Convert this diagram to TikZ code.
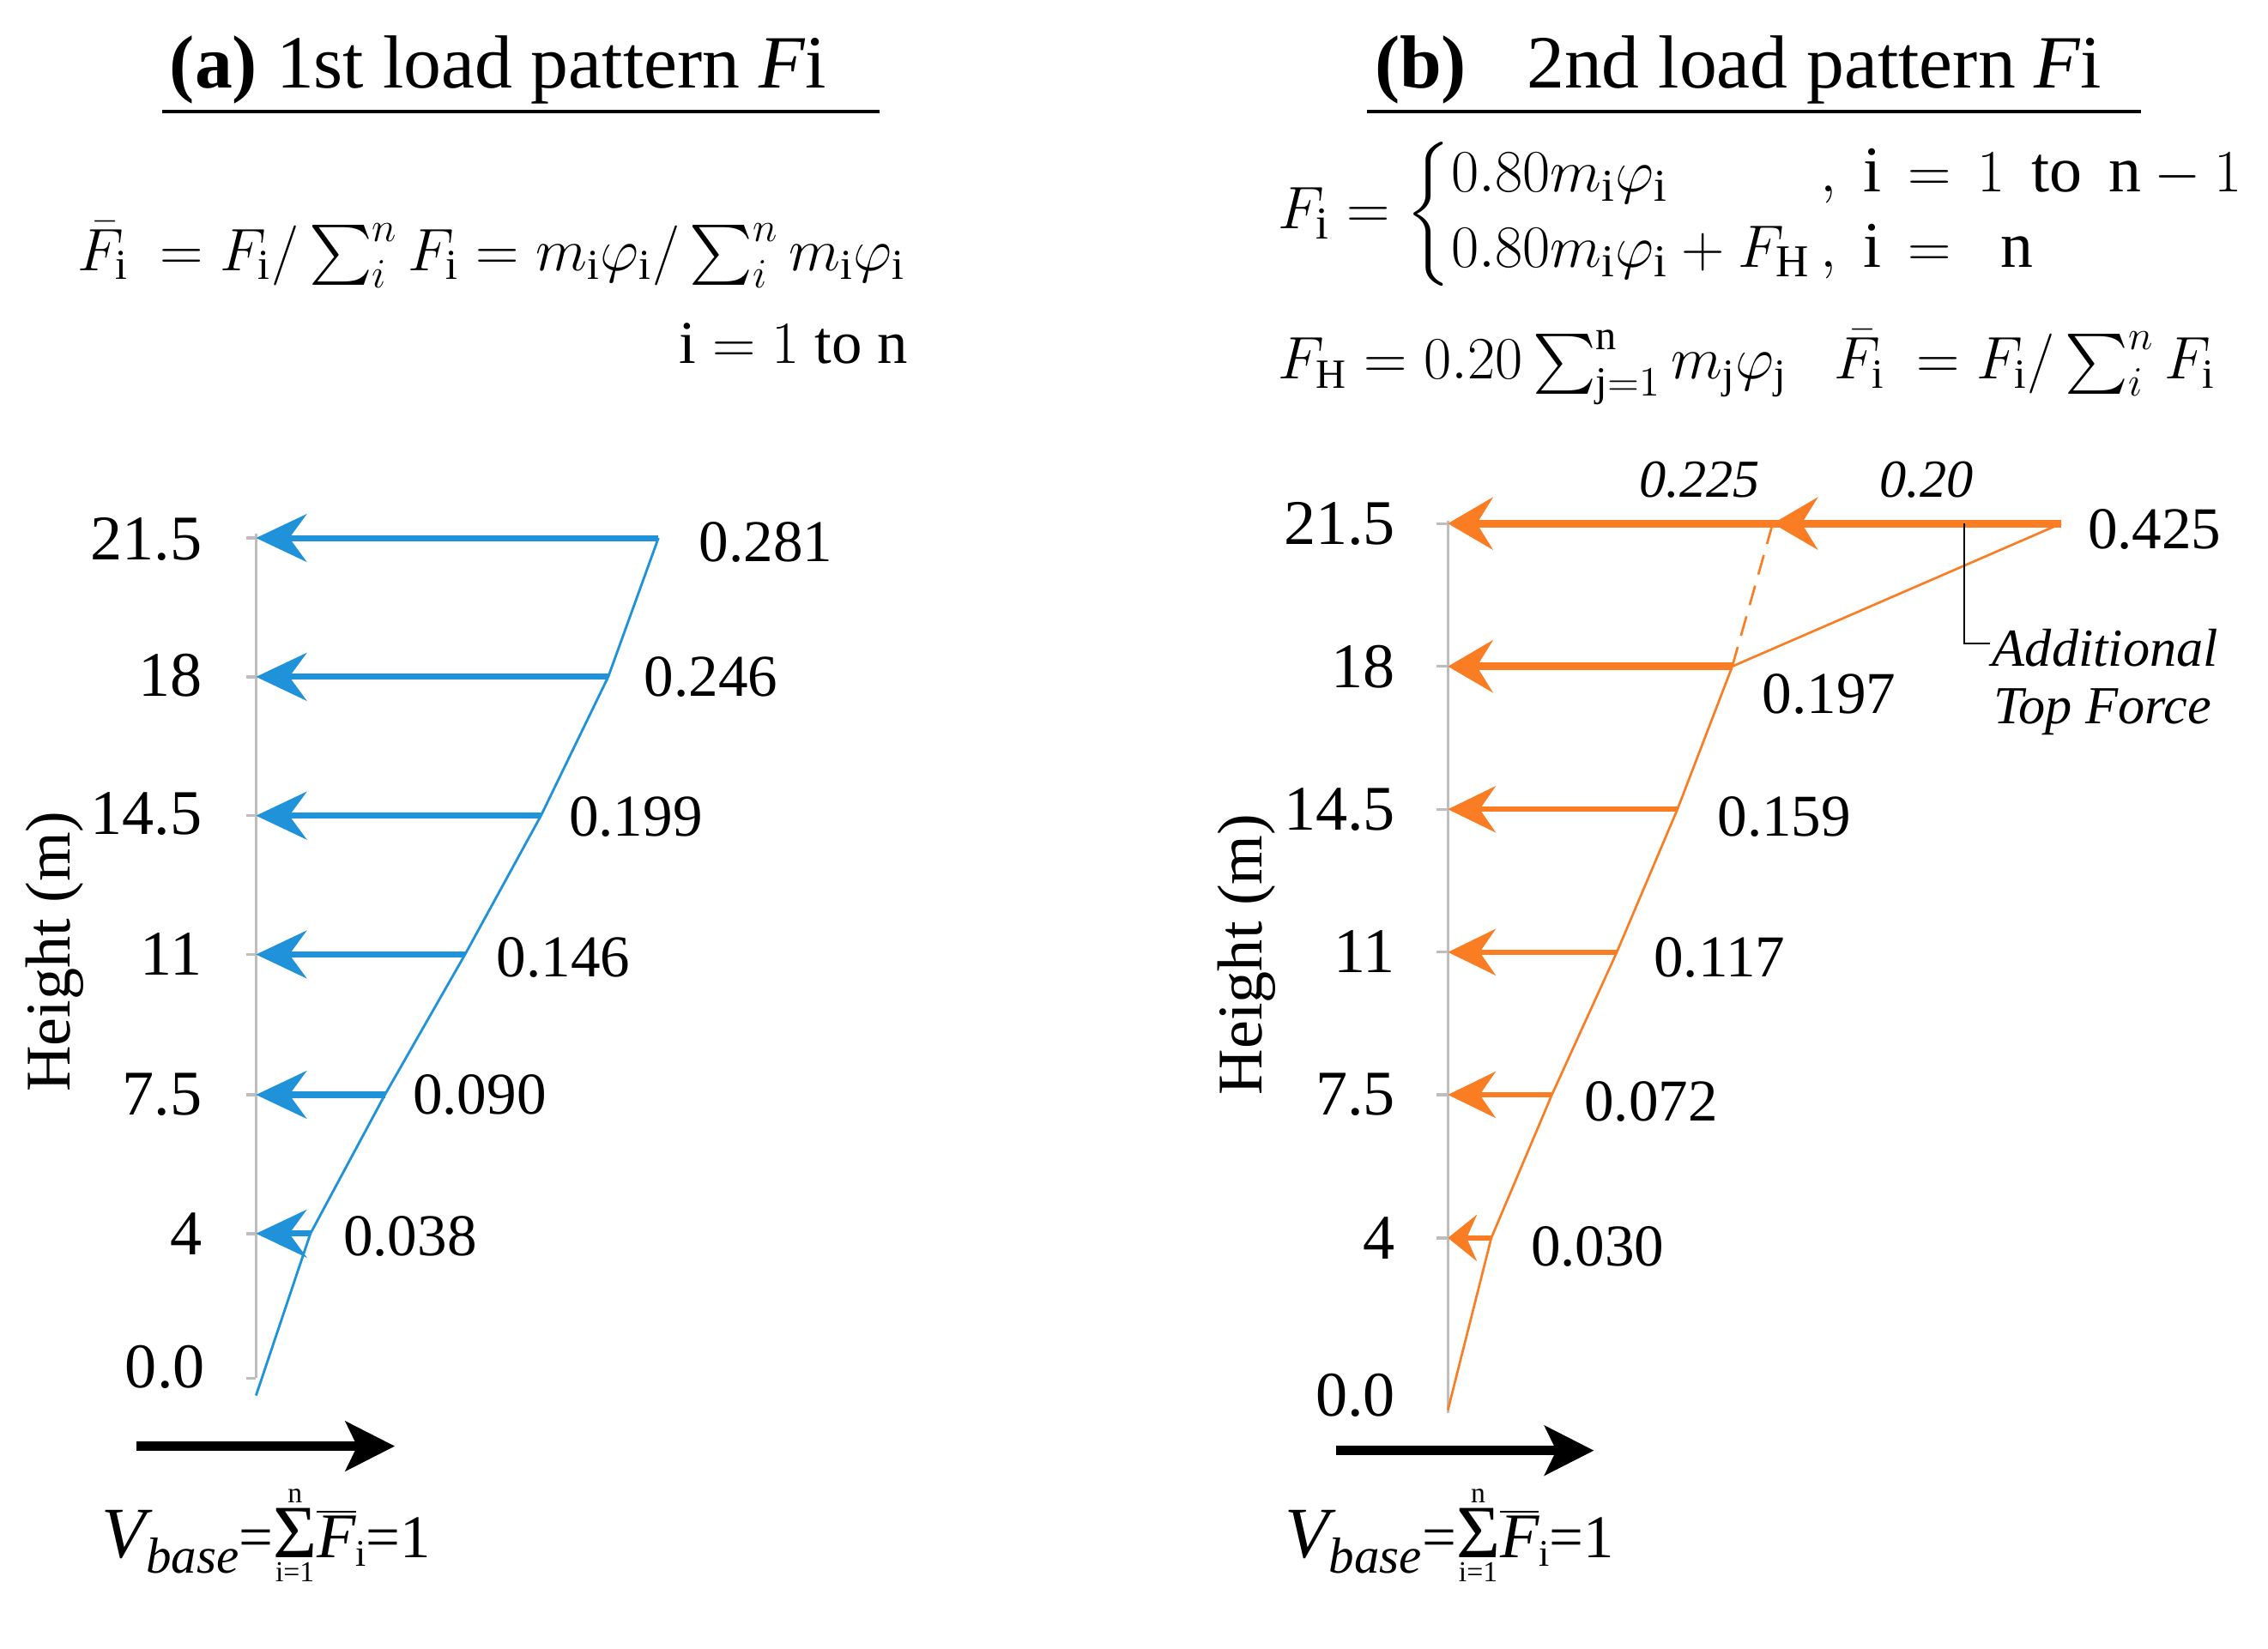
\documentclass[tikz,border=0pt]{standalone}
\usepackage{amsmath}
\usepackage{fontspec}
\setmainfont{Liberation Serif}
\usetikzlibrary{arrows.meta}
\definecolor{cblue}{RGB}{32,146,218}
\definecolor{corange}{RGB}{250,125,35}
\definecolor{axgray}{RGB}{190,190,190}
\newcommand{\myvbaselabel}{%
 {\fontsize{25}{30}\selectfont\itshape V}%
 \raisebox{-5.5pt}{\fontsize{17.5}{21}\selectfont\itshape base}%
 {\fontsize{21}{25}\selectfont=}%
 $\mathop{\hbox{\fontsize{26}{30}\selectfont Σ}}\limits_{\hbox{\fontsize{10}{12}\selectfont i=1}}^{\hbox{\fontsize{10}{12}\selectfont n}}$%
 $\overline{\hbox{\fontsize{22}{26}\selectfont\itshape F}}$%
 \raisebox{-3pt}{\fontsize{13}{15}\selectfont i}%
 {\fontsize{21}{25}\selectfont=1}}
\begin{document}
\begin{tikzpicture}[x=0.5pt,y=-0.5pt,
  axisline/.style={draw=axgray,line width=1pt},
  tickmk/.style={draw=axgray,line width=1pt},
  bluebar/.style={draw=cblue,line width=2.1pt,-{Stealth[length=17.5pt,width=16.5pt,inset=6pt]}},
  bluecurve/.style={draw=cblue,line width=0.85pt,line join=round},
  orbartop/.style={draw=corange,line width=2.7pt,-{Stealth[length=15.5pt,width=18pt,inset=5.5pt]}},
  orbar/.style={draw=corange,line width=1.9pt,-{Stealth[length=16.5pt,width=16pt,inset=5.5pt]}},
  orbarsmall/.style={draw=corange,line width=1.9pt,-{Stealth[length=10pt,width=16pt,inset=3.5pt]}},
  orcurve/.style={draw=corange,line width=0.8pt,line join=round},
  ordash/.style={draw=corange,line width=0.8pt,dash pattern=on 7pt off 4pt},
  basearrow/.style={draw=black,line width=3.2pt,-{Stealth[length=17pt,width=17pt,inset=4pt]}},
  leader/.style={draw=black,line width=0.6pt},
  titleline/.style={draw=black,line width=1.1pt},
  ticklbl/.style={inner sep=0pt,anchor=east,font=\fontsize{22}{26}\selectfont},
  vallbl/.style={inner sep=0pt,anchor=west,font=\fontsize{20.5}{24}\selectfont},
  itlbl/.style={inner sep=0pt,anchor=west,font=\fontsize{18.5}{22}\selectfont\itshape},
  ylbl/.style={inner sep=0pt,rotate=90,font=\fontsize{22}{26}\selectfont},
  titlelbl/.style={inner sep=0pt,anchor=base west,font=\fontsize{26}{30}\selectfont},
  formula/.style={inner sep=0pt,font=\fontsize{21}{25}\selectfont},
  vbase/.style={inner sep=0pt,anchor=base west}]
\useasboundingbox (0,0) rectangle (1568,1140);

% ---------------- Panel (a) ----------------
\node[titlelbl] (ta) at (117,61) {\textbf{(a)} 1st load pattern \textit{F}i};
\coordinate (ula) at (112,77);
\coordinate (ulb) at (608,77);
\draw[titleline] (ula) -- (ulb);

\node[formula,anchor=base west] (fa) at (53,187)
  {$\bar{F}_{\mathrm{i}}\ = F_{\mathrm{i}}/\textstyle\sum_{i}^{n}F_{\mathrm{i}} = m_{\mathrm{i}}\varphi_{\mathrm{i}}/\sum_{i}^{n}m_{\mathrm{i}}\varphi_{\mathrm{i}}$};
\node[formula,anchor=base east] (fa2) at (628,251) {$\mathrm{i} = 1\ \mathrm{to}\ \mathrm{n}$};

\coordinate (aTop) at (177,369);
\coordinate (aBot) at (177,953);
\coordinate (a0) at (177,965);
\coordinate (a1) at (177,853);
\coordinate (a2) at (177,757);
\coordinate (a3) at (177,660);
\coordinate (a4) at (177,564);
\coordinate (a5) at (177,468);
\coordinate (a6) at (177,372);
\coordinate (at1) at (214.6,853);
\coordinate (at2) at (266.1,757);
\coordinate (at3) at (321.5,660);
\coordinate (at4) at (374,564);
\coordinate (at5) at (420.5,468);
\coordinate (at6) at (455.2,372);

\draw[axisline] (aTop) -- (aBot);
\foreach \c in {a1,a2,a3,a4,a5,a6,aBot} {\draw[tickmk] (\c) -- ++(-7,0);}

\draw[bluecurve] (a0) -- (at1) -- (at2) -- (at3) -- (at4) -- (at5) -- (at6);
\foreach \i in {1,...,6} {\draw[bluebar] (at\i) -- (a\i);}

\node[ticklbl] (la6) at (140,373) {21.5};
\node[ticklbl] (la5) at (140,467) {18};
\node[ticklbl] (la4) at (140,563) {14.5};
\node[ticklbl] (la3) at (140,660) {11};
\node[ticklbl] (la2) at (140,757) {7.5};
\node[ticklbl] (la1) at (140,853) {4};
\node[ticklbl] (la0) at (142,945) {0.0};

\node[vallbl] (va6) at (483,375) {0.281};
\node[vallbl] (va5) at (445,468) {0.246};
\node[vallbl] (va4) at (393,565) {0.199};
\node[vallbl] (va3) at (343,662) {0.146};
\node[vallbl] (va2) at (285,757) {0.090};
\node[vallbl] (va1) at (237,855) {0.038};

\node[ylbl] (ha) at (38,658) {Height (m)};

\coordinate (ba1) at (94.5,1000);
\coordinate (ba2) at (273,1000);
\draw[basearrow] (ba1) -- (ba2);
\node[vbase] (vba) at (70,1077) {\myvbaselabel};

% ---------------- Panel (b) ----------------
\node[titlelbl] (tb) at (950,61) {\textbf{(b)}\hspace{0.8em}2nd load pattern \textit{F}i};
\coordinate (ulc) at (945,77);
\coordinate (uld) at (1480,77);
\draw[titleline] (ulc) -- (uld);

\node[formula,anchor=west,font=\fontsize{22.5}{27}\selectfont] (fb1) at (883,148)
  {$F_{\mathrm{i}} = \left\{\begin{array}{@{}l@{\,}l@{}}
     0.80m_{\mathrm{i}}\varphi_{\mathrm{i}} & ,\ \mathrm{i} \,=\, 1\ \,\mathrm{to}\ \,\mathrm{n}-1\\[-1pt]
     0.80m_{\mathrm{i}}\varphi_{\mathrm{i}}+F_{\mathrm{H}} & ,\ \mathrm{i} \,=\ \ \mathrm{n}
   \end{array}\right.$};
\node[formula,anchor=base west,font=\fontsize{20.5}{24}\selectfont] (fb2) at (883,262)
  {$F_{\mathrm{H}} = 0.20\textstyle\sum_{\mathrm{j}=1}^{\mathrm{n}}m_{\mathrm{j}}\varphi_{\mathrm{j}}\hspace{0.8em}\bar{F}_{\mathrm{i}}\ = F_{\mathrm{i}}/\sum_{i}^{n}F_{\mathrm{i}}$};

\coordinate (bTop) at (1001,360);
\coordinate (bBot) at (1001,977);
\coordinate (b0) at (1001,975);
\coordinate (b1) at (1001,856);
\coordinate (b2) at (1001,757);
\coordinate (b3) at (1001,658.4);
\coordinate (b4) at (1001,559.6);
\coordinate (b5) at (1001,460.8);
\coordinate (b6) at (1001,362);
\coordinate (bt1) at (1031,856);
\coordinate (bt2) at (1072.9,757);
\coordinate (bt3) at (1117.8,658.4);
\coordinate (bt4) at (1159.7,559.6);
\coordinate (bt5) at (1197.6,460.8);
\coordinate (bt6) at (1425,362);
\coordinate (bm6) at (1225.6,362);

\draw[axisline] (bTop) -- (bBot);
\foreach \c in {b1,b2,b3,b4,b5,b6} {\draw[tickmk] (\c) -- ++(-8,0);}

\draw[orcurve] (b0) -- (bt1) -- (bt2) -- (bt3) -- (bt4) -- (bt5) -- (bt6);
\draw[ordash] (bt5) -- (bm6);
\draw[orbarsmall] (bt1) -- (b1);
\foreach \i in {2,3,4} {\draw[orbar] (bt\i) -- (b\i);}
\draw[orbartop] (bt5) -- (b5);
\draw[orbartop] (bt6) -- (b6);
\draw[orbartop] (bt6) -- (bm6);

\node[ticklbl] (lb6) at (965,362) {21.5};
\node[ticklbl] (lb5) at (965,461) {18};
\node[ticklbl] (lb4) at (965,560) {14.5};
\node[ticklbl] (lb3) at (965,658) {11};
\node[ticklbl] (lb2) at (965,757) {7.5};
\node[ticklbl] (lb1) at (965,856) {4};
\node[ticklbl] (lb0) at (965,965) {0.0};

\node[vallbl] (vb6) at (1443,366) {0.425};
\node[vallbl] (vb5) at (1218,480) {0.197};
\node[vallbl] (vb4) at (1187,565) {0.159};
\node[vallbl] (vb3) at (1143,662) {0.117};
\node[vallbl] (vb2) at (1095,762) {0.072};
\node[vallbl] (vb1) at (1058,862) {0.030};
\node[itlbl] (vm1) at (1133,332) {0.225};
\node[itlbl] (vm2) at (1299,332) {0.20};

\coordinate (L1) at (1358,362);
\coordinate (L2) at (1358,445);
\coordinate (L3) at (1376,445);
\draw[leader] (L1) -- (L2) -- (L3);
\node[itlbl] (add1) at (1377,448) {Additional};
\node[itlbl] (add2) at (1378,492) {Top Force};

\node[ylbl] (hb) at (862,660) {Height (m)};

\coordinate (bb1) at (923.6,1003);
\coordinate (bb2) at (1102,1003);
\draw[basearrow] (bb1) -- (bb2);
\node[vbase] (vbb) at (888,1077) {\myvbaselabel};
\end{tikzpicture}
\end{document}
